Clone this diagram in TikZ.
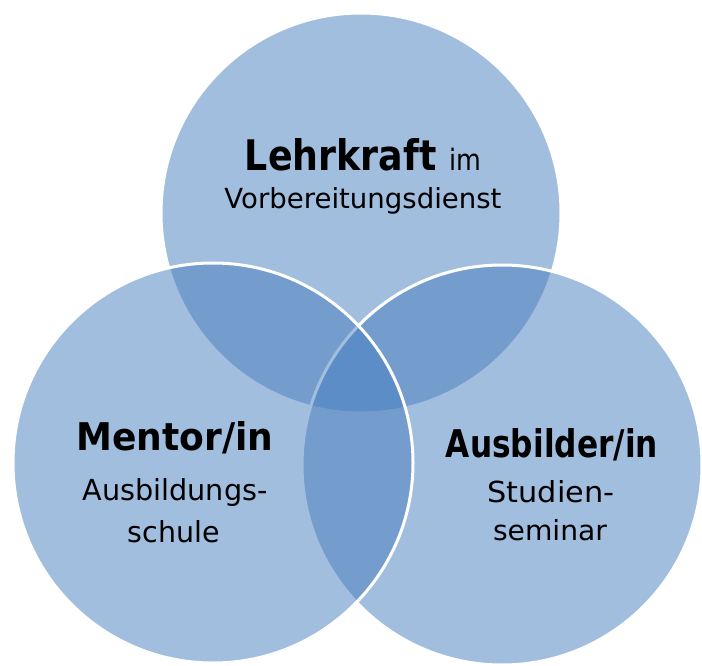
\documentclass[tikz,border=0pt]{standalone}
\usepackage{fontspec}
\setmainfont{DejaVu Sans}
\usepackage{graphicx}
\definecolor{venn}{RGB}{70,125,190}
\newcommand{\fitwh}[3]{\resizebox{#1pt}{#2pt}{#3}}
\begin{document}
\begin{tikzpicture}[x=1pt,y=-1pt,
  ring/.style={fill=venn,fill opacity=0.5,draw=white,draw opacity=1,line width=3pt},
  lbl/.style={anchor=base,inner sep=0pt,text=black}]
\useasboundingbox (0,0) rectangle (702,666);
\path[ring] (361,213) circle[radius=200];
\path[ring] (502,465) circle[radius=200];
\path[ring] (213,463) circle[radius=200];
% top
\node[lbl] (t1) at (363,171) {\fitwh{236}{32}{\bfseries\fontsize{30}{36}\selectfont Lehrkraft \mdseries\fontsize{21}{24}\selectfont im}};
\node[lbl] (t2) at (363,208) {\fitwh{277}{21}{\fontsize{22}{26}\selectfont Vorbereitungsdienst}};
% left
\node[lbl] (l1) at (175,450) {\fitwh{197}{29}{\bfseries\fontsize{30}{36}\selectfont Mentor/in}};
\node[lbl] (l2) at (175,500) {\fitwh{185}{22}{\fontsize{22}{26}\selectfont Ausbildungs-}};
\node[lbl] (l3) at (174,542) {\fitwh{92}{22}{\fontsize{22}{26}\selectfont schule}};
% right
\node[lbl] (r1) at (552,457) {\fitwh{212}{29}{\bfseries\fontsize{30}{36}\selectfont Ausbilder/in}};
\node[lbl] (r2) at (551,502) {\fitwh{127}{22}{\fontsize{22}{26}\selectfont Studien-}};
\node[lbl] (r3) at (550,540) {\fitwh{114}{21}{\fontsize{22}{26}\selectfont seminar}};
\end{tikzpicture}
\end{document}
